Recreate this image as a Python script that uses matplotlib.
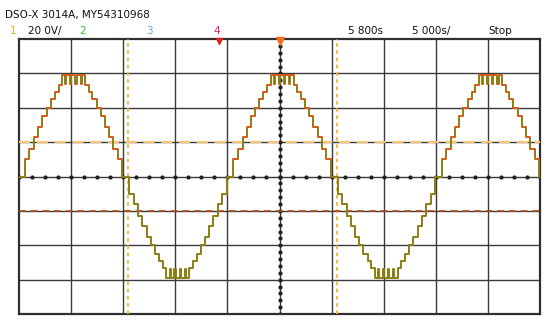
import numpy as np
import matplotlib
matplotlib.use("Agg")
import matplotlib.pyplot as plt

# ---- data ----
# one half-cycle of the stepped waveform: switching times (ms) and held level (V)
half_t = [0.00, 0.58, 1.00, 1.45, 1.85, 2.25, 2.65, 3.05, 3.45, 3.80,
          4.15, 4.45, 4.55, 4.92, 5.02, 5.42, 5.52, 5.92, 6.02,
          6.35, 6.70, 7.05, 7.45, 7.85, 8.25, 8.65, 9.05, 9.50, 9.92]
half_v = [0, 10, 16, 23, 29, 35, 40, 45, 49, 53,
          59, 54, 59, 54, 59, 54, 59, 54, 59,
          53, 49, 45, 40, 35, 29, 23, 16, 10, 0]
half_starts = [0, 10, 20, 30, 40]        # ms
half_sign = [1, -1, 1, -1, 1]
cursor_t = [10.45, 30.5]                  # ms
cursor_v = [20.0, -20.0]                  # V
header = "DSO-X 3014A, MY54310968"
ch_labels = ["1", "2", "3", "4"]
scale_text = "20 0V/"
delay_text = "5 800s"
time_text = "5 000s/"
run_text = "Stop"

# ---- build waveform ----
t = []
v = []
for s, sg in zip(half_starts, half_sign):
    t.extend([s + x for x in half_t])
    v.extend([sg * y for y in half_v])
t.append(50.0)
v.append(0)
t = np.array(t)
v = np.array(v, dtype=float)

fig = plt.figure(figsize=(5.5, 3.26), dpi=100)
fig.patch.set_facecolor("white")
ax = fig.add_axes([19/550, 1-314/326, (540-19)/550, (314-39)/326])
ax.set_xlim(0, 50)
ax.set_ylim(-80, 80)
ax.set_xticks([])
ax.set_yticks([])
for sp in ax.spines.values():
    sp.set_color("#303030")
    sp.set_linewidth(1.6)

# grid
for gx in np.arange(5, 50, 5):
    ax.axvline(gx, color="#3a3a3a", lw=1.0, zorder=1)
for gy in np.arange(-60, 80, 20):
    ax.axhline(gy, color="#3a3a3a", lw=1.0, zorder=1)
# center-line dots
dx = np.arange(0, 50.01, 1.25)
ax.plot(dx, np.zeros_like(dx), ls="none", marker="o", ms=2.0, color="#202020", zorder=2)
dy = np.arange(-80, 80.01, 4)
ax.plot(np.full_like(dy, 25.0), dy, ls="none", marker="o", ms=2.0, color="#202020", zorder=2)

# cursors
for ct in cursor_t:
    ax.axvline(ct, color="#f2b630", lw=1.3, ls=(0, (2, 2)), zorder=3)
ax.axhline(cursor_v[0], color="#f7c576", lw=1.6, ls=(0, (5, 3)), zorder=3)
ax.axhline(cursor_v[1], color="#b4471c", lw=1.2, ls=(0, (4, 3)), zorder=3)

# waveform
ax.step(t, v, where="post", color="#8c7e14", lw=1.4, zorder=4)
pos = v[:-1] > 0
ax.hlines(v[:-1][pos], t[:-1][pos], t[1:][pos], color="#f0501a", lw=1.3, zorder=5)

# top markers
ax.plot([25.0], [79], marker="v", ms=6, color="#f07020", clip_on=False, zorder=6)
ax.plot([19.2], [79], marker="v", ms=5, color="#e02020", clip_on=False, zorder=6)

fs = 7.5
fig.text(5/550, 1-15/326, header, fontsize=fs, va="center", ha="left", color="#101010")
yrow = 1-31/326
fig.text(10/550, yrow, ch_labels[0], fontsize=fs, va="center", color="#e8b020")
fig.text(28/550, yrow, scale_text, fontsize=fs, va="center", color="#101010")
fig.text(79/550, yrow, ch_labels[1], fontsize=fs, va="center", color="#30c030")
fig.text(146/550, yrow, ch_labels[2], fontsize=fs, va="center", color="#6aa8e0")
fig.text(213/550, yrow, ch_labels[3], fontsize=fs, va="center", color="#e0207a")
fig.text(348/550, yrow, delay_text, fontsize=fs, va="center", color="#101010")
fig.text(412/550, yrow, time_text, fontsize=fs, va="center", color="#101010")
fig.text(488/550, yrow, run_text, fontsize=fs, va="center", color="#101010")

fig.savefig("out.png", dpi=100)
